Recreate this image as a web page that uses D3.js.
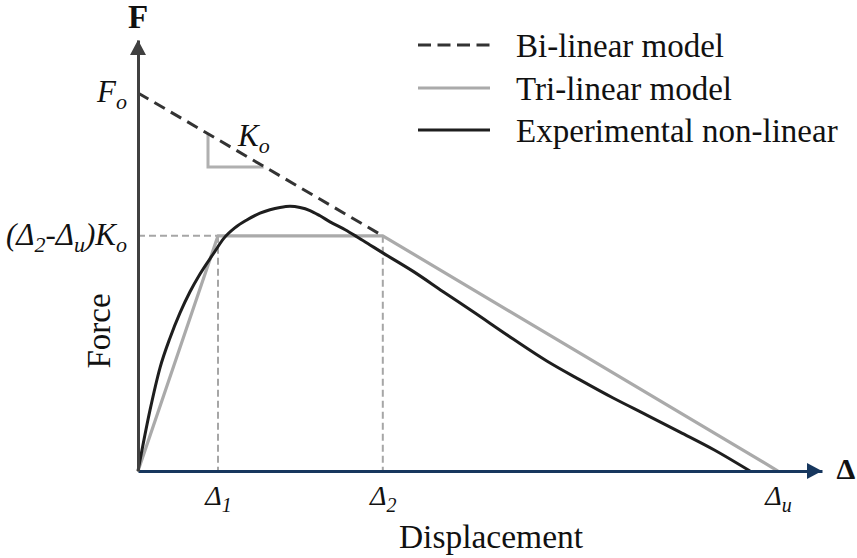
<!DOCTYPE html>
<html>
<head>
<meta charset="utf-8">
<script src="https://cdn.jsdelivr.net/npm/d3@7"></script>
<style>
  html, body { margin: 0; padding: 0; background: #fff; }
  svg { display: block; }
</style>
</head>
<body>
<svg id="chart" width="857" height="558"></svg>
<script>
// ---- data (displacement units, force units) ----
const xTickValues = [10, 30.6, 80];            // Δ1, Δ2, Δu
const xTickSubs   = ["1", "2", "u"];
const Fo = 100;
const plateau = 62.2;                         // (Δ2-Δu)Ko
const yTickValues = [Fo, plateau];

const bilinear  = [[0, 100], [30.6, 62.2]];
const trilinear = [[0, 0], [10, 62.2], [30.6, 62.2], [80, 0]];
const experimental = [
  [0, 0], [1.5, 16.1], [2.75, 27.3], [4, 35.2], [5.25, 41.8], [6.5, 47.4],
  [7.75, 52.1], [9.4, 57.4], [10.75, 61.6], [12.1, 64.3], [13.6, 66.4],
  [15.25, 68.2], [16.5, 69.1], [17.75, 69.7], [19, 70.0], [20.25, 69.7],
  [21.5, 68.9], [22.75, 67.5], [24, 65.9], [25.9, 63.8], [27.4, 61.9],
  [29, 59.8], [30.6, 57.7], [34.4, 52.8], [38.1, 47.5], [41.9, 42.1],
  [46.9, 34.9], [51.1, 29.1], [55.25, 24.1], [59.4, 19.3], [63.6, 14.8],
  [67.75, 10.3], [72.1, 5.5], [76.5, 0]
];
const slopeTriangle = [[8.75, 89.06], [8.75, 80.4], [15.7, 80.4]];
const legendItems = ["Bi-linear model", "Tri-linear model", "Experimental non-linear"];

// ---- layout ----
const SERIF = "'Liberation Serif'";
const svg = d3.select("#chart");
const x = d3.scaleLinear().domain([0, 85.5]).range([138, 822]);
const y = d3.scaleLinear().domain([0, 114]).range([471, 40]);
const line = d3.line().x(d => x(d[0])).y(d => y(d[1]));

const cDash = "#333333", cGrey = "#aaaaaa", cBlack = "#1e1e1e";

// guide lines
const guides = svg.append("g").attr("stroke", "#a6a6a6").attr("stroke-width", 2)
  .attr("stroke-dasharray", "7,4").attr("fill", "none");
guides.append("path").attr("d", line([[0, plateau], [10, plateau]]));
guides.append("path").attr("d", line([[10, plateau], [10, 0]]));
guides.append("path").attr("d", line([[30.6, plateau], [30.6, 0]]));

// slope triangle
svg.append("path").attr("d", line(slopeTriangle))
  .attr("fill", "none").attr("stroke", "#b0b0b0").attr("stroke-width", 3);

// series
svg.append("path").attr("d", line(trilinear))
  .attr("fill", "none").attr("stroke", cGrey).attr("stroke-width", 3.2).attr("stroke-linejoin", "round");
svg.append("path").attr("d", line(bilinear))
  .attr("fill", "none").attr("stroke", cDash).attr("stroke-width", 3).attr("stroke-dasharray", "12,7");
svg.append("path").attr("d", d3.line().x(d => x(d[0])).y(d => y(d[1])).curve(d3.curveMonotoneX)(experimental))
  .attr("fill", "none").attr("stroke", cBlack).attr("stroke-width", 3);

// x axis
const xAxis = svg.append("g").attr("transform", `translate(0,${y(0)})`)
  .call(d3.axisBottom(x).tickValues(xTickValues).tickSize(0).tickSizeOuter(0).tickFormat(""));
xAxis.attr("font-family", null);
xAxis.select(".domain").attr("stroke", "#17375e").attr("stroke-width", 3);
xAxis.selectAll(".tick").each(function(d, i) {
  const t = d3.select(this).select("text")
    .attr("y", 34).attr("dy", 0).attr("fill", "#111")
    .attr("font-size", 28).attr("font-style", "italic").attr("text-anchor", "middle")
    .style("font-family", SERIF);
  t.text(null);
  t.append("tspan").text("Δ");
  t.append("tspan").attr("font-size", 20).attr("dy", 7).text(xTickSubs[i]);
});
svg.append("path")
  .attr("d", `M${x(85.5)},${y(0)} L${x(85.5) - 15},${y(0) - 8} L${x(85.5) - 15},${y(0) + 8} Z`)
  .attr("fill", "#17375e");

// y axis
const yAxis = svg.append("g").attr("transform", `translate(${x(0)},0)`)
  .call(d3.axisLeft(y).tickValues(yTickValues).tickSize(0).tickSizeOuter(0).tickFormat(""));
yAxis.attr("font-family", null);
yAxis.select(".domain").attr("stroke", "#404040").attr("stroke-width", 3);
yAxis.selectAll(".tick").each(function(d, i) {
  const t = d3.select(this).select("text")
    .attr("x", -11).attr("dy", 9).attr("fill", "#111")
    .attr("font-size", 31).attr("font-style", "italic").attr("text-anchor", "end")
    .style("font-family", SERIF);
  t.text(null);
  if (i === 0) {
    t.append("tspan").text("F");
    t.append("tspan").attr("font-size", 22).attr("dy", 7).text("o");
  } else {
    t.append("tspan").text("(Δ");
    t.append("tspan").attr("font-size", 22).attr("dy", 7).text("2");
    t.append("tspan").attr("dy", -7).text("-Δ");
    t.append("tspan").attr("font-size", 22).attr("dy", 7).text("u");
    t.append("tspan").attr("dy", -7).text(")K");
    t.append("tspan").attr("font-size", 22).attr("dy", 7).text("o");
  }
});
svg.append("path")
  .attr("d", `M${x(0)},${y(114)} L${x(0) - 8},${y(114) + 15} L${x(0) + 8},${y(114) + 15} Z`)
  .attr("fill", "#404040");

// axis titles
const T = (sel) => sel.style("font-family", SERIF).attr("fill", "#111");
T(svg.append("text")).attr("x", x(0)).attr("y", 28).attr("text-anchor", "middle")
  .attr("font-size", 33).attr("font-weight", "bold").text("F");
T(svg.append("text")).attr("x", 846).attr("y", 479).attr("text-anchor", "middle")
  .attr("font-size", 30).attr("font-weight", "bold").text("Δ");
T(svg.append("text")).attr("x", 491).attr("y", 548).attr("text-anchor", "middle")
  .attr("font-size", 33.5).text("Displacement");
T(svg.append("text")).attr("transform", "translate(110,331) rotate(-90)").attr("text-anchor", "middle")
  .attr("font-size", 33).text("Force");

// Ko label
const ko = T(svg.append("text")).attr("x", 238).attr("y", 146)
  .attr("font-size", 31).attr("font-style", "italic");
ko.append("tspan").text("K");
ko.append("tspan").attr("font-size", 22).attr("dy", 7).text("o");

// legend
const legend = svg.append("g");
const rowsY = [45, 88, 130];
legendItems.forEach((name, i) => {
  const g = legend.append("g").attr("transform", `translate(0,${rowsY[i]})`);
  const l = g.append("line").attr("x1", 418).attr("x2", 490).attr("y1", 0).attr("y2", 0)
    .attr("stroke-width", 3);
  if (i === 0) l.attr("stroke", cDash).attr("stroke-dasharray", "13,6.5");
  else if (i === 1) l.attr("stroke", cGrey);
  else l.attr("stroke", cBlack);
  T(g.append("text")).attr("x", 516).attr("y", 12).attr("font-size", 33).text(name);
});
</script>
</body>
</html>
